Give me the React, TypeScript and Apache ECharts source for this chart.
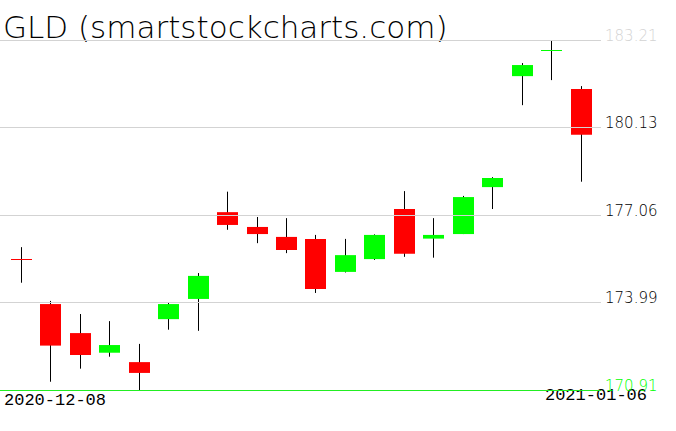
import React, { useEffect, useRef } from "react";
import * as echarts from "echarts";

const title = "GLD (smartstockcharts.com)";
const dates = [
  "2020-12-08", "2020-12-09", "2020-12-10", "2020-12-11", "2020-12-14",
  "2020-12-15", "2020-12-16", "2020-12-17", "2020-12-18", "2020-12-21",
  "2020-12-22", "2020-12-23", "2020-12-24", "2020-12-28", "2020-12-29",
  "2020-12-30", "2020-12-31", "2021-01-04", "2021-01-05", "2021-01-06",
];
const opens = [
  175.5, 173.93, 172.91, 172.22, 171.89, 173.4, 174.11, 177.16, 176.64, 176.29,
  176.22, 175.06, 175.51, 177.27, 176.23, 176.39, 178.04, 181.94, 182.84, 181.49,
];
const closes = [
  175.49, 172.47, 172.14, 172.49, 171.51, 173.93, 174.92, 176.71, 176.39, 175.83,
  174.46, 175.65, 176.36, 175.7, 176.36, 177.69, 178.36, 182.33, 182.85, 179.88,
];
const lows = [
  174.68, 171.2, 171.66, 172.08, 170.91, 173.03, 172.99, 176.54, 176.07, 175.72,
  174.32, 175.04, 175.48, 175.59, 175.56, 176.39, 177.27, 180.92, 181.8, 178.23,
];
const highs = [
  175.93, 174.04, 173.58, 173.33, 172.53, 173.97, 175.02, 177.88, 176.99, 176.95,
  176.36, 176.22, 176.38, 177.9, 176.95, 177.73, 178.39, 182.4, 183.18, 181.59,
];
const yTickLabels = ["170.91", "173.99", "177.06", "180.13", "183.21"];

export default function App() {
  const ref = useRef<HTMLDivElement>(null);
  useEffect(() => {
    if (!ref.current) return;
    const chart = echarts.init(ref.current, undefined, { renderer: "svg" });
    const yMin = Number(yTickLabels[0]);
    const yMax = Number(yTickLabels[yTickLabels.length - 1]);
    const data = dates.map((d, i) => [i, opens[i], closes[i], lows[i], highs[i]]);
    const greenLine = "#22ee22";
    const grid = "#d3d3d3";
    chart.setOption({
      animation: false,
      backgroundColor: "#ffffff",
      title: {
        text: title,
        left: 3,
        top: 11,
        padding: 0,
        textStyle: {
          fontFamily: "DejaVu Sans",
          fontWeight: 200,
          fontSize: 31,
          color: "#000",
        },
      },
      grid: [
        { left: 0, right: 75, top: 40, bottom: 41 },
        { left: 6, right: 80.5, top: 40, bottom: 41 },
      ],
      xAxis: [
        { gridIndex: 0, type: "value", min: 0, max: 1, show: false },
        { gridIndex: 1, type: "category", data: dates, boundaryGap: true, show: false },
      ],
      yAxis: [
        {
          gridIndex: 0,
          type: "value",
          min: 0,
          max: yTickLabels.length - 1,
          interval: 1,
          position: "right",
          z: 10,
          axisLine: { show: false },
          axisTick: { show: false },
          splitLine: {
            show: true,
            lineStyle: {
              color: yTickLabels.map((_, i) => (i === 0 ? greenLine : grid)),
              width: 1,
            },
          },
          axisLabel: {
            margin: 4,
            fontFamily: "DejaVu Sans",
            fontWeight: 200,
            fontSize: 15,
            verticalAlign: "bottom",
            lineHeight: 9,
            formatter: (v: number) => yTickLabels[Math.round(v)] ?? "",
            color: (v: any) => {
              const i = Math.round(Number(v));
              if (i === 0) return "#00ff00";
              if (i === yTickLabels.length - 1) return "#d3d3d3";
              return "#000";
            },
          },
        },
        { gridIndex: 1, type: "value", min: yMin, max: yMax, show: false },
      ],
      series: [
        {
          type: "custom",
          xAxisIndex: 1,
          yAxisIndex: 1,
          z: 2,
          data,
          encode: { x: 0, y: [1, 2, 3, 4] },
          renderItem: (params: any, api: any) => {
            const i = api.value(0);
            const o = api.value(1);
            const c = api.value(2);
            const l = api.value(3);
            const h = api.value(4);
            const [x, yo] = api.coord([i, o]);
            const yc = api.coord([i, c])[1];
            const yl = api.coord([i, l])[1];
            const yh = api.coord([i, h])[1];
            const xc = Math.round(x) + 0.5;
            const w = 21;
            let top = Math.min(yo, yc);
            let hgt = Math.abs(yo - yc);
            if (hgt < 1) {
              hgt = 1;
              top = Math.round(top);
            }
            return {
              type: "group",
              children: [
                {
                  type: "line",
                  shape: { x1: xc, y1: yh, x2: xc, y2: yl },
                  style: { stroke: "#000", lineWidth: 1 },
                },
                {
                  type: "rect",
                  shape: { x: xc - 10.5, y: top, width: w, height: hgt },
                  style: { fill: c > o ? "#00ff00" : "#ff0000", stroke: null },
                },
              ],
            };
          },
        },
      ],
      graphic: [
        {
          type: "text",
          x: 4,
          y: 400,
          style: {
            text: dates[0],
            font: '17px "Liberation Mono"',
            fill: "#000",
            align: "left",
            verticalAlign: "middle",
          },
        },
        {
          type: "text",
          x: 647,
          y: 395,
          style: {
            text: dates[dates.length - 1],
            font: '17px "Liberation Mono"',
            fill: "#000",
            align: "right",
            verticalAlign: "middle",
          },
        },
      ],
    });
    return () => chart.dispose();
  }, []);
  return (
    <div
      ref={ref}
      style={{ position: "absolute", left: 0, top: 0, width: 676, height: 431 }}
    />
  );
}
